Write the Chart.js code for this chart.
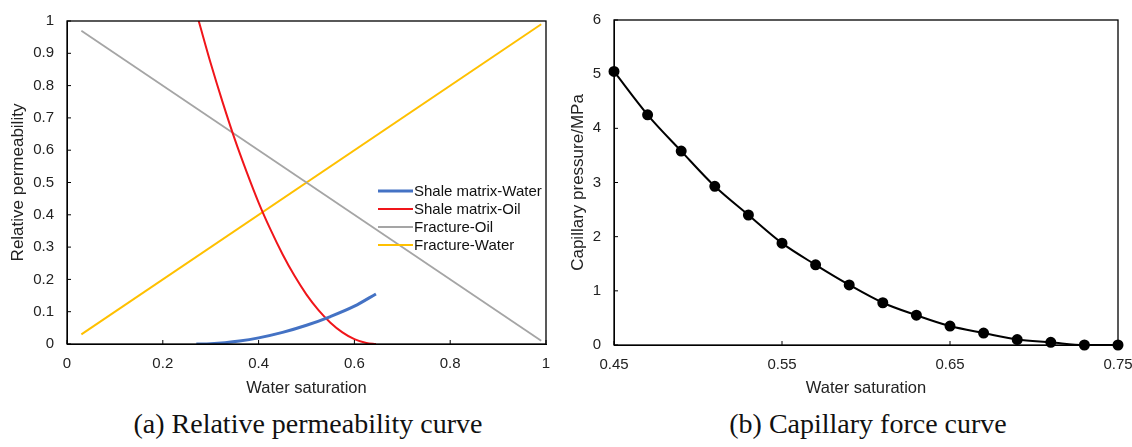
<!DOCTYPE html>
<html>
<head>
<meta charset="utf-8">
<script src="https://cdn.jsdelivr.net/npm/chart.js@4.4.0/dist/chart.umd.min.js"></script>
<style>
  body { margin: 0; background: #fff; width: 1132px; height: 447px; position: relative; overflow: hidden; }
  .box { position: absolute; top: 0; }
  .cap { position: absolute; top: 408px; font-family: "Liberation Serif", "Times New Roman", serif; font-size: 28px; color: #111; white-space: nowrap; transform: translateX(-50%); }
</style>
</head>
<body>
<div class="box" style="left:0px"><canvas id="relPerm" width="565" height="405"></canvas></div>
<div class="box" style="left:565px"><canvas id="capPress" width="567" height="405"></canvas></div>
<div class="cap" style="left:308px">(a) Relative permeability curve</div>
<div class="cap" style="left:868px">(b) Capillary force curve</div>
<script>
// (a) relative permeability data
const matrixWaterSw = [0.27, 0.30, 0.33, 0.36, 0.40, 0.45, 0.50, 0.55, 0.60, 0.645];
const matrixWaterKr = [0, 0.001, 0.004, 0.009, 0.019, 0.036, 0.058, 0.085, 0.117, 0.155];
const matrixOilSw = [0.275, 0.30, 0.325, 0.35, 0.375, 0.40, 0.425, 0.45, 0.475, 0.50, 0.525, 0.55, 0.575, 0.60, 0.625, 0.645];
const matrixOilKr = [1, 0.869, 0.748, 0.635, 0.533, 0.438, 0.354, 0.278, 0.211, 0.153, 0.105, 0.066, 0.036, 0.015, 0.003, 0];
const fractureSw = [0.03, 0.99];
const fractureOilKr = [0.97, 0.01];
const fractureWaterKr = [0.03, 0.99];
const seriesNames = ['Shale matrix-Water', 'Shale matrix-Oil', 'Fracture-Oil', 'Fracture-Water'];

// (b) capillary pressure data
const pcSw = [0.45, 0.47, 0.49, 0.51, 0.53, 0.55, 0.57, 0.59, 0.61, 0.63, 0.65, 0.67, 0.69, 0.71, 0.73, 0.75];
const pcMPa = [5.05, 4.25, 3.58, 2.93, 2.40, 1.88, 1.48, 1.11, 0.78, 0.55, 0.35, 0.22, 0.10, 0.05, 0.0, 0.0];
const pcXTicks = [0.45, 0.55, 0.65, 0.75];

const pts = (xs, ys) => xs.map((x, i) => ({ x: x, y: ys[i] }));
const fam = 'Liberation Sans, Arial, sans-serif';
const tickFont = { family: fam, size: 15 };
const xTitleFont = { family: fam, size: 16.5 };
const yTitleFont = { family: fam, size: 17 };

// frame around the plot area + short inward ticks
const framePlugin = {
    id: 'frame',
    afterDraw(chart) {
        const { ctx, chartArea: a, scales } = chart;
        ctx.save();
        ctx.strokeStyle = '#000';
        ctx.lineWidth = 1.3;
        ctx.strokeRect(a.left, a.top, a.right - a.left, a.bottom - a.top);
        ctx.lineWidth = 1;
        ctx.beginPath();
        scales.x.ticks.forEach(t => {
            const px = scales.x.getPixelForValue(t.value);
            ctx.moveTo(px, a.bottom); ctx.lineTo(px, a.bottom - 4);
        });
        scales.y.ticks.forEach(t => {
            const py = scales.y.getPixelForValue(t.value);
            ctx.moveTo(a.left, py); ctx.lineTo(a.left + 4, py);
        });
        ctx.stroke();
        ctx.restore();
    }
};

// legend drawn inside the plot area
const insideLegend = {
    id: 'insideLegend',
    afterDatasetsDraw(chart) {
        const ctx = chart.ctx;
        const x0 = 378, y0 = 191, row = 18;
        ctx.save();
        ctx.font = '15px ' + fam;
        ctx.textBaseline = 'middle';
        chart.data.datasets.forEach((ds, i) => {
            const y = y0 + i * row;
            ctx.strokeStyle = ds.borderColor;
            ctx.lineWidth = ds.borderWidth;
            ctx.beginPath(); ctx.moveTo(x0, y); ctx.lineTo(x0 + 35, y); ctx.stroke();
            ctx.fillStyle = '#111';
            ctx.fillText(ds.label, x0 + 36, y + 1);
        });
        ctx.restore();
    }
};

const fmt1 = v => String(+v.toFixed(1));
// fixed axis sizes, no extra padding for edge labels
const fixX = h => s => { s.height = h; s.paddingLeft = 0; s.paddingRight = 0; };
const fixY = w => s => { s.width = w; s.paddingTop = 0; s.paddingBottom = 0; };

new Chart(document.getElementById('relPerm'), {
    type: 'line',
    data: {
        datasets: [
            { label: seriesNames[0], data: pts(matrixWaterSw, matrixWaterKr), borderColor: '#4472C4', borderWidth: 3, cubicInterpolationMode: 'monotone' },
            { label: seriesNames[1], data: pts(matrixOilSw, matrixOilKr), borderColor: '#F0151A', borderWidth: 2, cubicInterpolationMode: 'monotone' },
            { label: seriesNames[2], data: pts(fractureSw, fractureOilKr), borderColor: '#A5A5A5', borderWidth: 1.8 },
            { label: seriesNames[3], data: pts(fractureSw, fractureWaterKr), borderColor: '#FFC000', borderWidth: 2 }
        ]
    },
    options: {
        responsive: false,
        animation: false,
        layout: { padding: { top: 21, right: 19, left: 0, bottom: 0 } },
        elements: { point: { radius: 0 } },
        plugins: { legend: { display: false }, tooltip: { enabled: false } },
        scales: {
            x: {
                type: 'linear', min: 0, max: 1,
                ticks: { stepSize: 0.2, color: '#222', font: tickFont, padding: 11, maxRotation: 0, callback: fmt1 },
                grid: { display: false, drawTicks: false },
                border: { color: '#000' },
                title: { display: true, text: 'Water saturation', color: '#222', font: xTitleFont, padding: { top: 4, bottom: 7 } },
                afterFit: fixX(61)
            },
            y: {
                type: 'linear', min: 0, max: 1,
                ticks: { stepSize: 0.1, color: '#222', font: tickFont, padding: 13, callback: fmt1 },
                grid: { display: false, drawTicks: false },
                border: { color: '#000' },
                title: { display: true, text: 'Relative permeability', color: '#222', font: yTitleFont, padding: { top: 8, bottom: 4 } },
                afterFit: fixY(67)
            }
        }
    },
    plugins: [framePlugin, insideLegend]
});

new Chart(document.getElementById('capPress'), {
    type: 'line',
    data: {
        datasets: [{
            label: 'Capillary pressure',
            data: pts(pcSw, pcMPa),
            borderColor: '#000', backgroundColor: '#000',
            borderWidth: 2, pointRadius: 4.5, pointHoverRadius: 4.5,
            cubicInterpolationMode: 'monotone',
            clip: false
        }]
    },
    options: {
        responsive: false,
        animation: false,
        layout: { padding: { top: 20, right: 14, left: 0, bottom: 0 } },
        plugins: { legend: { display: false }, tooltip: { enabled: false } },
        scales: {
            x: {
                type: 'linear', min: 0.45, max: 0.75,
                afterBuildTicks: s => { s.ticks = pcXTicks.map(v => ({ value: v })); },
                ticks: { color: '#222', font: tickFont, padding: 11, maxRotation: 0, callback: v => v.toFixed(2) },
                grid: { display: false, drawTicks: false },
                border: { color: '#000' },
                title: { display: true, text: 'Water saturation', color: '#222', font: xTitleFont, padding: { top: 4, bottom: 7 } },
                afterFit: fixX(60)
            },
            y: {
                type: 'linear', min: 0, max: 6,
                ticks: { stepSize: 1, color: '#222', font: tickFont, padding: 13 },
                grid: { display: false, drawTicks: false },
                border: { color: '#000' },
                title: { display: true, text: 'Capillary pressure/MPa', color: '#222', font: yTitleFont, padding: { top: 3, bottom: 4 } },
                afterFit: fixY(49)
            }
        }
    },
    plugins: [framePlugin]
});
</script>
</body>
</html>
